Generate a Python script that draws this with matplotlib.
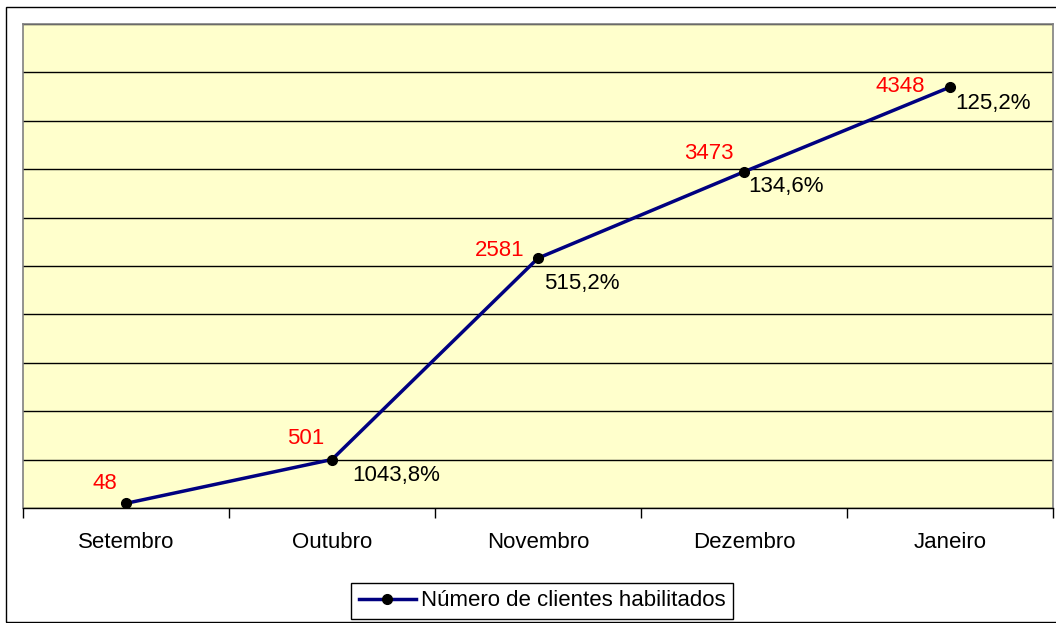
import matplotlib
matplotlib.use("Agg")
import matplotlib.pyplot as plt
from matplotlib.patches import Rectangle
from matplotlib.ticker import MultipleLocator, NullFormatter

plt.rcParams['font.family'] = ['Liberation Sans', 'DejaVu Sans']

meses = ["Setembro", "Outubro", "Novembro", "Dezembro", "Janeiro"]
clientes = [48, 501, 2581, 3473, 4348]
crescimento = ["", "1043,8%", "515,2%", "134,6%", "125,2%"]

# label offsets (pixels), as Excel placed them
off_val = [(-9, 20), (-8, 21), (-13, 8), (-10, 18), (-25, 1)]
off_pct = [(0, 0), (20, -16), (6, -25), (4, -15), (5, -16)]

fig = plt.figure(figsize=(10.56, 6.23), dpi=100)
W, H = 1056, 623
fs = 16

# outer chart border (right/bottom fall outside the picture)
fig.patches.append(Rectangle((6 / W, 1 - 622 / H), 1.0, 615 / H, transform=fig.transFigure,
                             fill=False, edgecolor="black", linewidth=1.0))

ax = fig.add_axes([23 / W, 1 - 508 / H, (1053 - 23) / W, (508 - 24) / H])
ax.set_facecolor("#FFFFCC")
x = list(range(len(meses)))

ax.plot(x, clientes, color="#000080", linewidth=2.5, marker="o", markersize=7,
        markerfacecolor="black", markeredgecolor="black", label="Número de clientes habilitados",
        zorder=3)

for i, v in enumerate(clientes):
    ax.annotate(str(v), (i, v), xytext=off_val[i], textcoords="offset pixels",
                ha="right", va="center", color="red", fontsize=fs)
    if crescimento[i]:
        ax.annotate(crescimento[i], (i, v), xytext=off_pct[i], textcoords="offset pixels",
                    ha="left", va="center", color="black", fontsize=fs)

ax.set_xlim(-0.5, 4.5)
ax.set_ylim(0, 5000)
ax.yaxis.set_major_locator(MultipleLocator(500))
ax.yaxis.set_major_formatter(NullFormatter())
ax.tick_params(axis="y", length=0)
ax.grid(axis="y", color="black", linewidth=1.0)
ax.set_axisbelow(True)

ax.set_xticks(x)
ax.set_xticklabels(meses, fontsize=fs)
ax.set_xticks([i + 0.5 for i in range(-1, 5)], minor=True)
ax.tick_params(axis="x", which="major", length=0, pad=17.5)
ax.tick_params(axis="x", which="minor", length=7, width=1, color="black")

for s in ["left", "top", "right"]:
    ax.spines[s].set_color("#808080")
    ax.spines[s].set_linewidth(1.2)
ax.spines["bottom"].set_color("black")
ax.spines["bottom"].set_linewidth(1.0)

leg = fig.legend(loc="center", bbox_to_anchor=(542 / W, 1 - 601 / H), fontsize=fs,
                 frameon=True, fancybox=False, edgecolor="black", framealpha=1,
                 handlelength=2.6, handletextpad=0.2, borderpad=0.35)
leg.get_frame().set_linewidth(1.0)

fig.savefig("out.png", dpi=100)
